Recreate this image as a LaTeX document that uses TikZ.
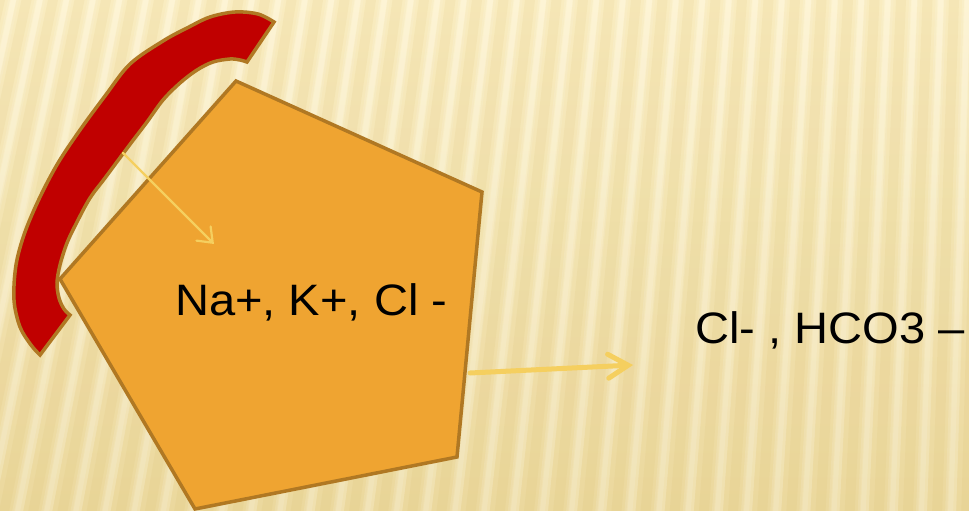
\documentclass[tikz,border=0pt]{standalone}
\usepackage{fontspec}
\usepackage{graphicx}
\setmainfont{Liberation Sans}
\usetikzlibrary{arrows.meta}
\definecolor{bgtop}{HTML}{FDF2CA}
\definecolor{bgbot}{HTML}{EEDCA4}
\definecolor{stripec}{HTML}{D2B460}
\definecolor{orng}{HTML}{EFA431}
\definecolor{brn}{HTML}{B07823}
\definecolor{redarc}{HTML}{C00000}
\definecolor{arrowc}{HTML}{F5CF5F}
\tikzset{
  pent/.style={fill=orng, draw=brn, line width=3.5pt, line join=miter},
  arcband/.style={fill=redarc, draw=brn, line width=3.5pt, line join=miter},
  thinarrow/.style={draw=arrowc, line width=2.2pt, line cap=round,
    -{Straight Barb[length=13pt,width=20pt,line cap=round]}},
  thickarrow/.style={draw=arrowc, line width=5pt, line cap=round,
    -{Straight Barb[length=20pt,width=24pt,line cap=round]}},
  lbl/.style={anchor=base west, inner sep=0pt, font=\fontsize{44}{50}\selectfont}
}
\begin{document}
\begin{tikzpicture}[x=1pt,y=-1pt]
\useasboundingbox (0,0) rectangle (969,511);
% background
\shade[top color=bgtop, bottom color=bgbot] (0,0) rectangle (969,511);
\begin{scope}
\clip (0,0) rectangle (969,511);
\foreach \i in {-2,...,40}{
  \pgfmathsetmacro\xa{\i*26.5}
  \pgfmathsetmacro\s{-0.22+0.19*\xa/969}
  \pgfmathsetmacro\xb{\xa+\s*511}
  \fill[stripec, opacity=0.09] (\xa-10,0) -- (\xa+10,0) -- (\xb+10,511) -- (\xb-10,511) -- cycle;
  \fill[stripec, opacity=0.10] (\xa-5,0) -- (\xa+5,0) -- (\xb+5,511) -- (\xb-5,511) -- cycle;
  \fill[white, opacity=0.12] (\xa+8,0) -- (\xa+19,0) -- (\xb+19,511) -- (\xb+8,511) -- cycle;
  \fill[white, opacity=0.12] (\xa+11,0) -- (\xa+16,0) -- (\xb+16,511) -- (\xb+11,511) -- cycle;
}
\end{scope}
% pentagon
\coordinate (pT) at (236,81);
\coordinate (pR) at (482,192);
\coordinate (pLR) at (457,457);
\coordinate (pB) at (195,509);
\coordinate (pL) at (60,279);
\draw[pent] (pT) -- (pR) -- (pLR) -- (pB) -- (pL) -- cycle;
% red block arc
\draw[arcband]
  plot[smooth, tension=0.55] coordinates {(274,22) (258,14) (235,12) (210,17) (187,28) (163,41) (130,64) (105,96) (80,130) (58,163) (40,197) (25,232) (16,265) (14,300) (20,327) (31,345) (40,355)}
  -- (70,315)
  -- plot[smooth, tension=0.55] coordinates {(70,315) (64,309) (59,298) (57,283) (60,265) (67,243) (77,222) (90,198) (105,178) (128,147) (147,122) (163,100) (180,83) (197,70) (213,62) (230,59) (240,60) (247,62)}
  -- cycle;
% arrows
\coordinate (a1s) at (123,153);
\coordinate (a1e) at (214,244);
\coordinate (a2s) at (470,373);
\coordinate (a2e) at (633,365);
\draw[thinarrow] (a1s) -- (a1e);
\draw[thickarrow] (a2s) -- (a2e);
% labels
\node[lbl] (ions1) at (175,315) {\scalebox{1.07}[1]{Na+, K+, Cl -}};
\node[lbl] (ions2) at (695,343) {\scalebox{1.07}[1]{Cl- , HCO3 –}};
\end{tikzpicture}
\end{document}
